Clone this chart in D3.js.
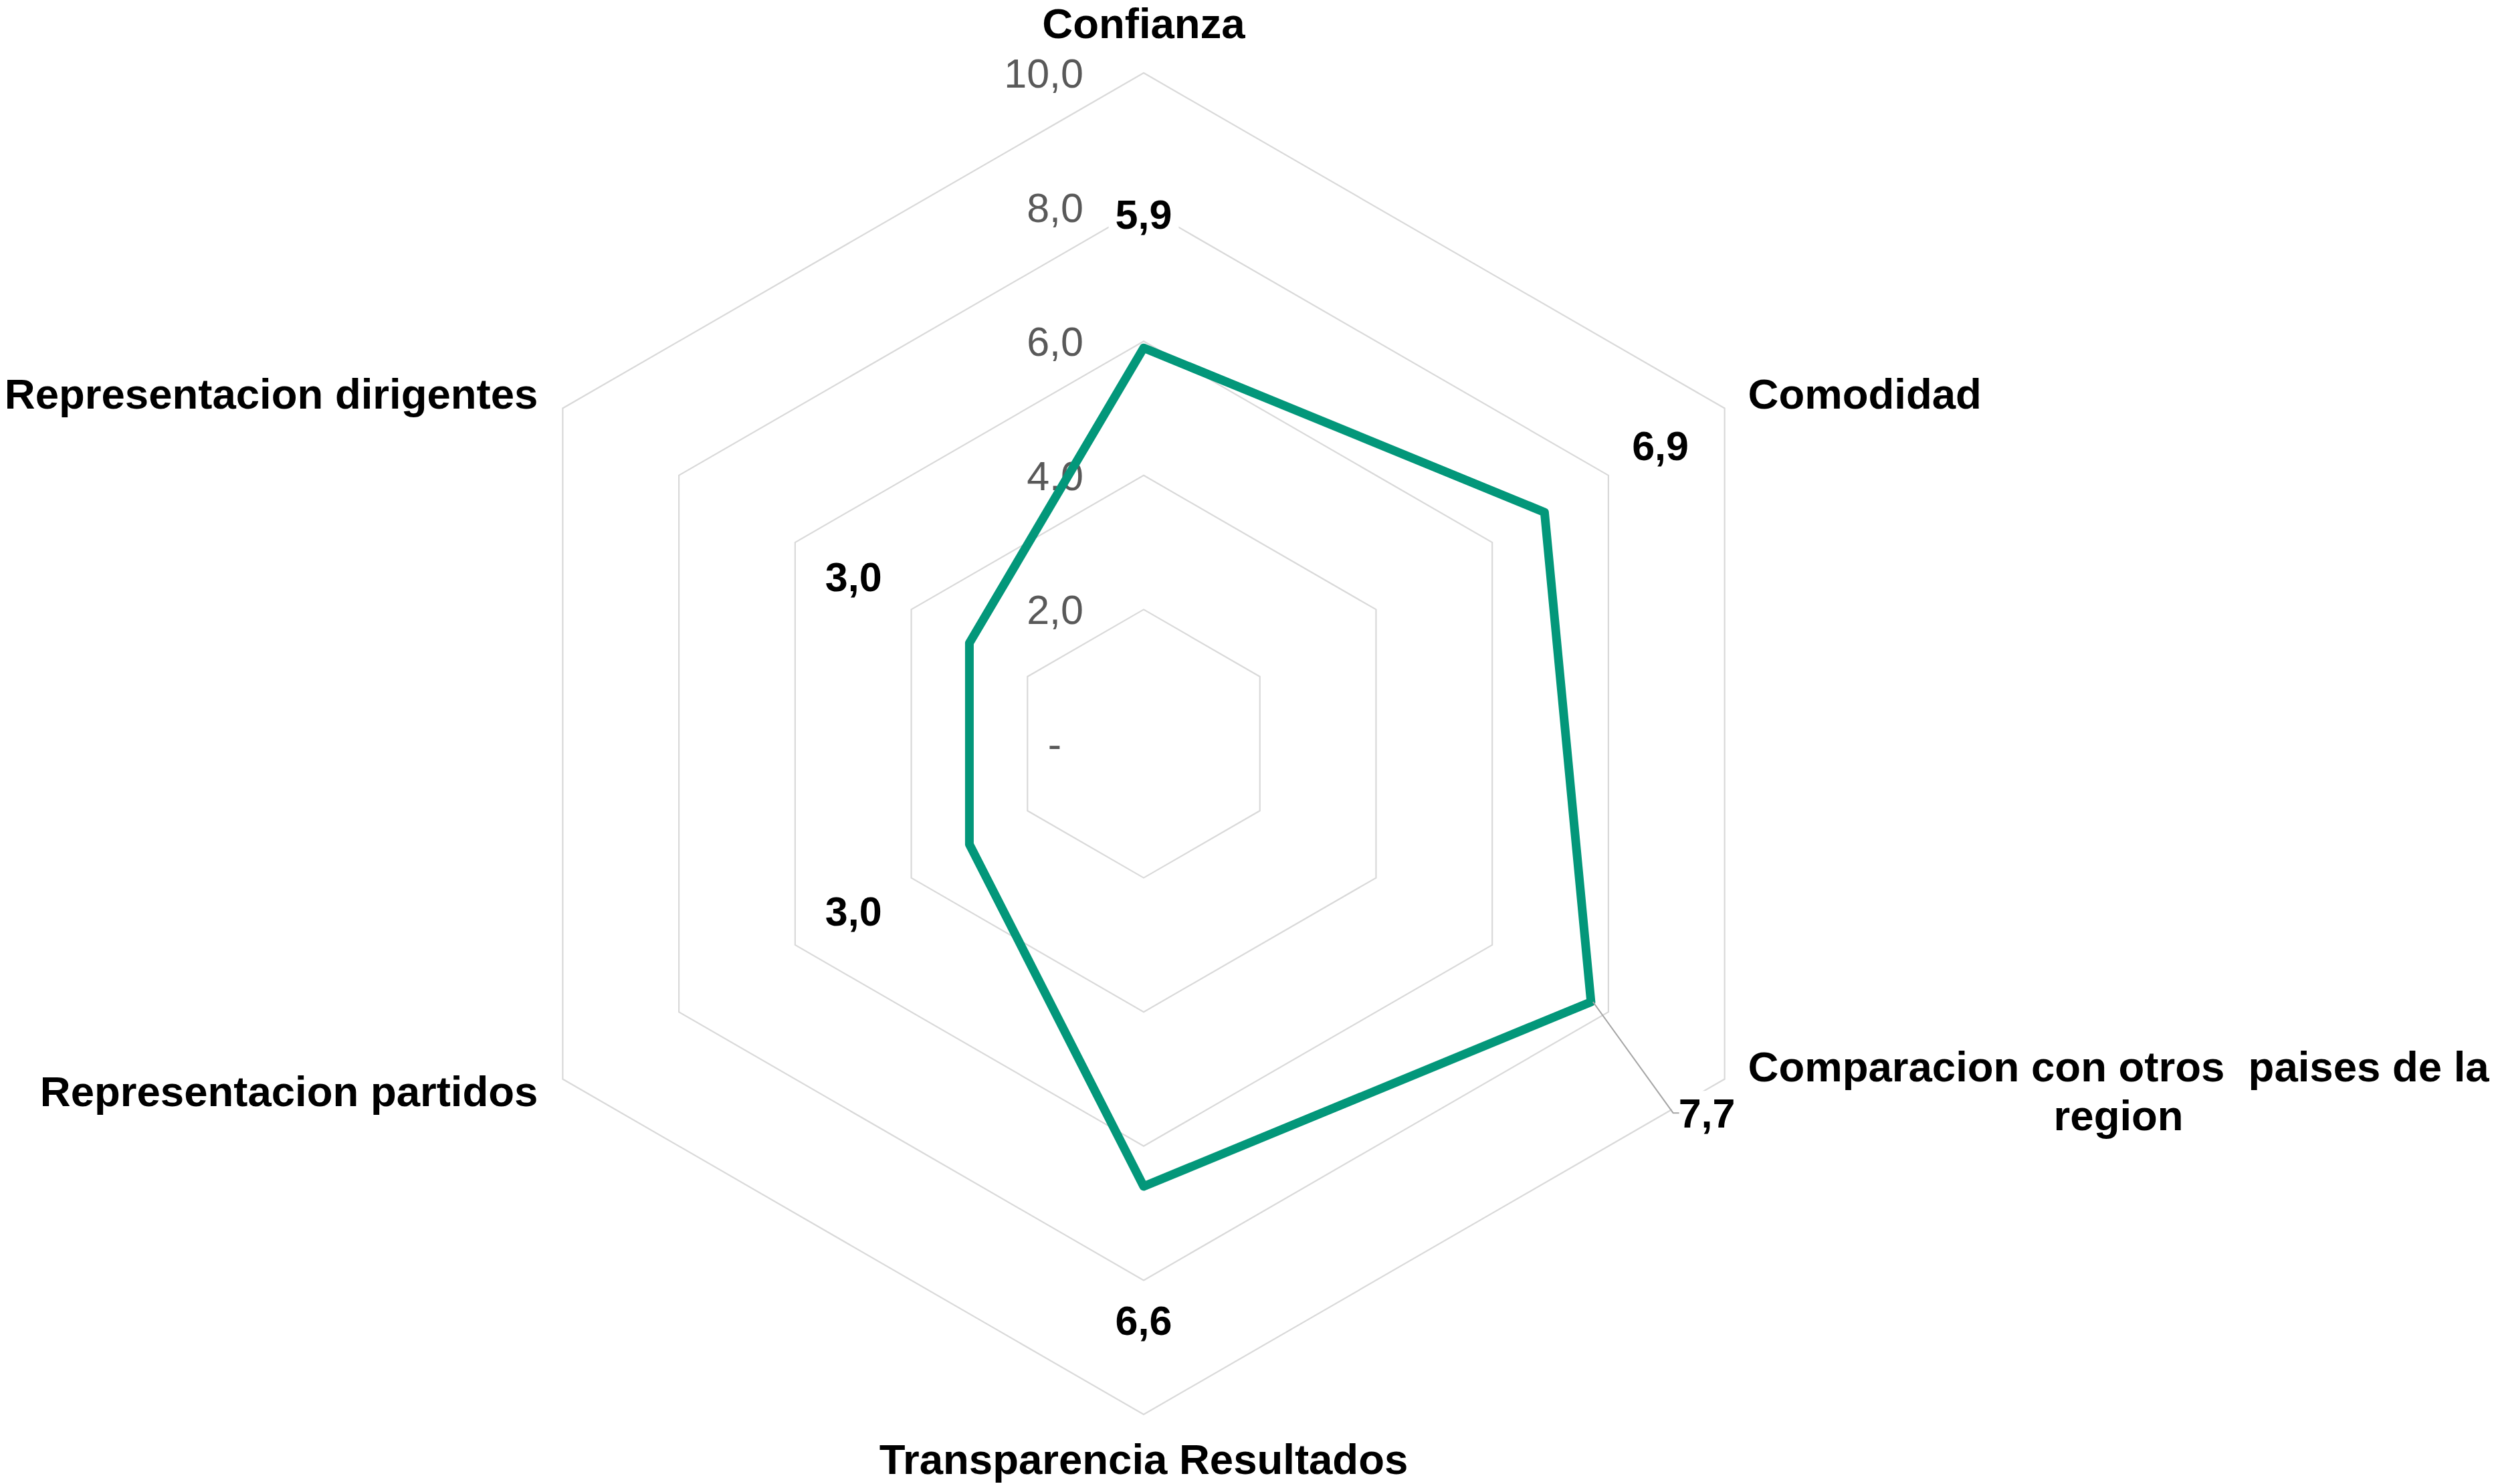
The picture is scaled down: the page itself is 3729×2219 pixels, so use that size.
<!DOCTYPE html>
<html>
<head>
<meta charset="utf-8">
<script src="https://cdn.jsdelivr.net/npm/d3@7"></script>
<style>
  html, body { margin: 0; padding: 0; background: #ffffff; }
  svg { display: block; }
  text { font-family: "Liberation Sans", Arial, sans-serif; }
</style>
</head>
<body>
<script>
// Dimensions evaluated for the polling-system radar
const categories = [
  "Confianza",
  "Comodidad",
  "Comparacion con otros  paises de la|region",
  "Transparencia Resultados",
  "Representacion partidos",
  "Representacion dirigentes"
];
const values = [5.9, 6.9, 7.7, 6.6, 3.0, 3.0];
const ticks = [0, 2, 4, 6, 8, 10];

const W = 3729, H = 2219;
const cx = 1710, cy = 1112, R = 1003;

const svg = d3.select("body").append("svg")
  .attr("width", W).attr("height", H)
  .attr("viewBox", `0 0 ${W} ${H}`);

const r = d3.scaleLinear().domain([0, 10]).range([0, R]);
const angle = d3.scaleLinear().domain([0, categories.length]).range([0, 2 * Math.PI]);

// point for value v on axis i (clockwise from the top)
const pt = (i, v) => [cx + r(v) * Math.sin(angle(i)), cy - r(v) * Math.cos(angle(i))];

const fmt = d3.formatLocale({ decimal: ",", thousands: ".", grouping: [3], currency: ["", ""] }).format(".1f");

// hexagonal grid rings
const ringLine = d3.line();
svg.append("g").selectAll("path")
  .data(ticks.filter(t => t > 0))
  .join("path")
  .attr("d", t => ringLine(categories.map((c, i) => pt(i, t))) + "Z")
  .attr("fill", "none")
  .attr("stroke", "#d9d9d9")
  .attr("stroke-width", 2.2);

// radial scale labels
svg.append("g").selectAll("text")
  .data(ticks)
  .join("text")
  .attr("x", cx - 90)
  .attr("dx", t => t === 0 ? -33 : 0)
  .attr("y", t => cy - r(t) + 22)
  .attr("text-anchor", "end")
  .attr("font-size", 61)
  .attr("fill", "#595959")
  .text(t => t === 0 ? "-" : fmt(t));

// series outline
const seriesLine = d3.line();
svg.append("path")
  .attr("d", seriesLine(values.map((v, i) => pt(i, v))) + "Z")
  .attr("fill", "none")
  .attr("stroke", "#03977a")
  .attr("stroke-width", 13)
  .attr("stroke-linejoin", "round");

// value labels, pushed outward along each spoke
const labelGap = 200;
const labelNudge = [[0, 0], [0, 0], [0, 66], [0, 0], [0, 0], [0, 0]];
const labels = svg.append("g");
values.forEach((v, i) => {
  const [px, py] = pt(i, v);
  const a = angle(i);
  const lx = px + labelGap * Math.sin(a) + labelNudge[i][0];
  const ly = py - labelGap * Math.cos(a) + labelNudge[i][1];
  const g = labels.append("g");
  const t = g.append("text")
    .attr("x", lx).attr("y", ly + 22)
    .attr("text-anchor", "middle")
    .attr("font-size", 61)
    .attr("font-weight", "bold")
    .attr("fill", "#000")
    .text(fmt(v));
  const bb = t.node().getBBox();
  g.insert("rect", "text")
    .attr("x", bb.x - 10).attr("y", bb.y)
    .attr("width", bb.width + 20).attr("height", bb.height)
    .attr("fill", "#fff");
  if (labelNudge[i][1] !== 0 || labelNudge[i][0] !== 0) {
    // leader line for a displaced label
    const ex = bb.x - 8, ey = ly;
    svg.append("path")
      .attr("d", `M${px + 3},${py}L${ex},${ey}L${ex + 9},${ey}`)
      .attr("fill", "none")
      .attr("stroke", "#a6a6a6")
      .attr("stroke-width", 2);
  }
});

// category names around the outer ring
const cat = svg.append("g")
  .attr("font-size", 63.5)
  .attr("font-weight", "bold")
  .attr("fill", "#000");
categories.forEach((name, i) => {
  const [vx, vy] = pt(i, 10);
  const a = angle(i);
  const sx = Math.round(Math.sin(a) * 1000) / 1000;
  const cy_ = Math.round(Math.cos(a) * 1000) / 1000;
  const lines = name.split("|");
  const t = cat.append("text").style("white-space", "pre");
  if (sx === 0) {
    t.attr("text-anchor", "middle").attr("x", vx)
      .attr("y", cy_ > 0 ? vy - 52 : vy + 89)
      .text(name);
    return;
  }
  const base = cy_ > 0 ? vy : vy + 40;
  if (sx > 0) {
    const x0 = vx + 35;
    if (lines.length === 1) {
      t.attr("text-anchor", "start").attr("x", x0).attr("y", base).text(name);
    } else {
      const lh = 73;
      const first = base - lh * (lines.length - 1) / 2;
      const spans = t.attr("text-anchor", "middle").selectAll("tspan")
        .data(lines).join("tspan")
        .attr("y", (d, k) => first + k * lh)
        .text(d => d);
      const w0 = spans.nodes()[0].getComputedTextLength();
      spans.attr("x", x0 + w0 / 2);
    }
  } else {
    t.attr("text-anchor", "end").attr("x", vx - 37).attr("y", base).text(name);
  }
});
</script>
</body>
</html>
